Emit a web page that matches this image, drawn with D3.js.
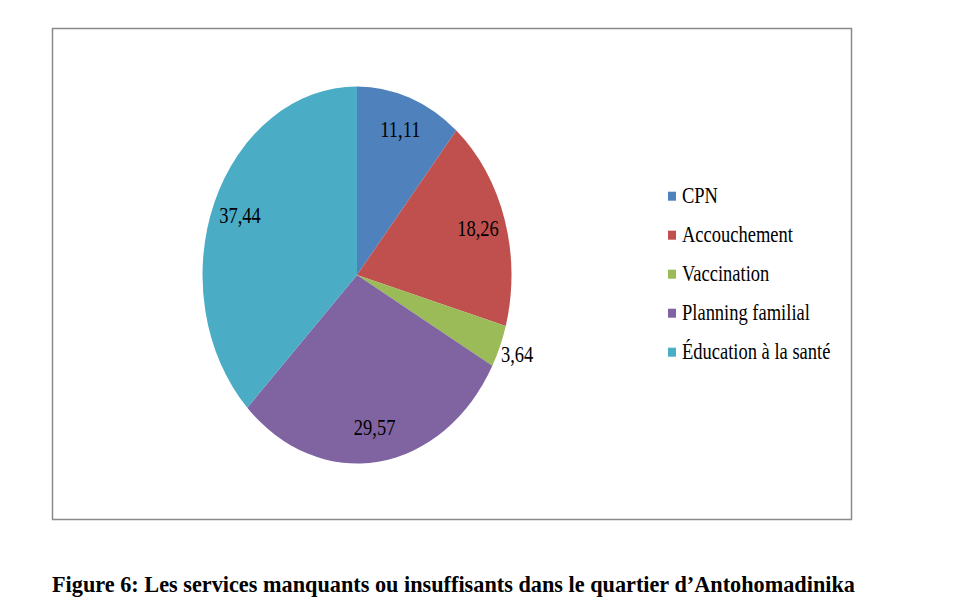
<!DOCTYPE html>
<html>
<head>
<meta charset="utf-8">
<script src="https://cdn.jsdelivr.net/npm/d3@7"></script>
<style>
  body { margin: 0; background: #fff; }
  text { font-family: "Liberation Serif", "Times New Roman", serif; fill: #000; }
</style>
</head>
<body>
<script>
// data
var categories = ["CPN", "Accouchement", "Vaccination", "Planning familial", "Éducation à la santé"];
var values = [11.11, 18.26, 3.64, 29.57, 37.44];
var valueLabels = ["11,11", "18,26", "3,64", "29,57", "37,44"];
var colors = ["#4f81bd", "#c0504d", "#9bbb59", "#8064a2", "#4bacc6"];
var caption = "Figure 6: Les services manquants ou insuffisants dans le quartier d\u2019Antohomadinika";

var width = 960, height = 616;
var stretch = 1.22;           // the figure is vertically stretched
var cx = 357, cy = 275, radius = 154.5;

var svg = d3.select("body")
    .append("svg")
    .attr("width", width)
    .attr("height", height);

// chart frame
svg.append("rect")
    .attr("x", 52.5)
    .attr("y", 28.5)
    .attr("width", 799)
    .attr("height", 491)
    .attr("fill", "none")
    .attr("stroke", "#8a8a8a")
    .attr("stroke-width", 1.5);

var pie = d3.pie().sort(null).value(function(d) { return d; });
var arcs = pie(values);

var arc = d3.arc().innerRadius(0).outerRadius(radius);
var labelArc = d3.arc().innerRadius(radius * 0.82).outerRadius(radius * 0.82);
var outerArc = d3.arc().innerRadius(radius * 1.12).outerRadius(radius * 1.12);

var g = svg.append("g")
    .attr("transform", "translate(" + cx + "," + cy + ") scale(1," + stretch + ")");

g.selectAll("path")
    .data(arcs)
    .join("path")
    .attr("d", arc)
    .attr("fill", function(d, i) { return colors[i]; });

// value labels (small slices go outside)
svg.selectAll("text.val")
    .data(arcs)
    .join("text")
    .attr("class", "val")
    .attr("text-anchor", "middle")
    .attr("font-size", 18.5)
    .attr("transform", function(d) {
        var c = (d.value < 5 ? outerArc : labelArc).centroid(d);
        return "translate(" + (cx + c[0]) + "," + (cy + c[1] * stretch + 7) + ") scale(1," + stretch + ")";
    })
    .text(function(d, i) { return valueLabels[i]; });

// legend
var legend = svg.append("g");
var y = d3.scalePoint().domain(categories).range([202.7, 358.7]);

legend.selectAll("rect")
    .data(categories)
    .join("rect")
    .attr("x", 668)
    .attr("y", function(d) { return y(d) - 11; })
    .attr("width", 8)
    .attr("height", 9)
    .attr("fill", function(d, i) { return colors[i]; });

legend.selectAll("text")
    .data(categories)
    .join("text")
    .attr("font-size", 18.5)
    .attr("transform", function(d) {
        return "translate(682," + y(d) + ") scale(1," + stretch + ")";
    })
    .text(function(d) { return d; });

// caption
svg.append("text")
    .attr("font-size", 19.5)
    .attr("font-weight", "bold")
    .attr("textLength", 803)
    .attr("lengthAdjust", "spacingAndGlyphs")
    .attr("transform", "translate(52,591.5) scale(1," + stretch + ")")
    .text(caption);
</script>
</body>
</html>
